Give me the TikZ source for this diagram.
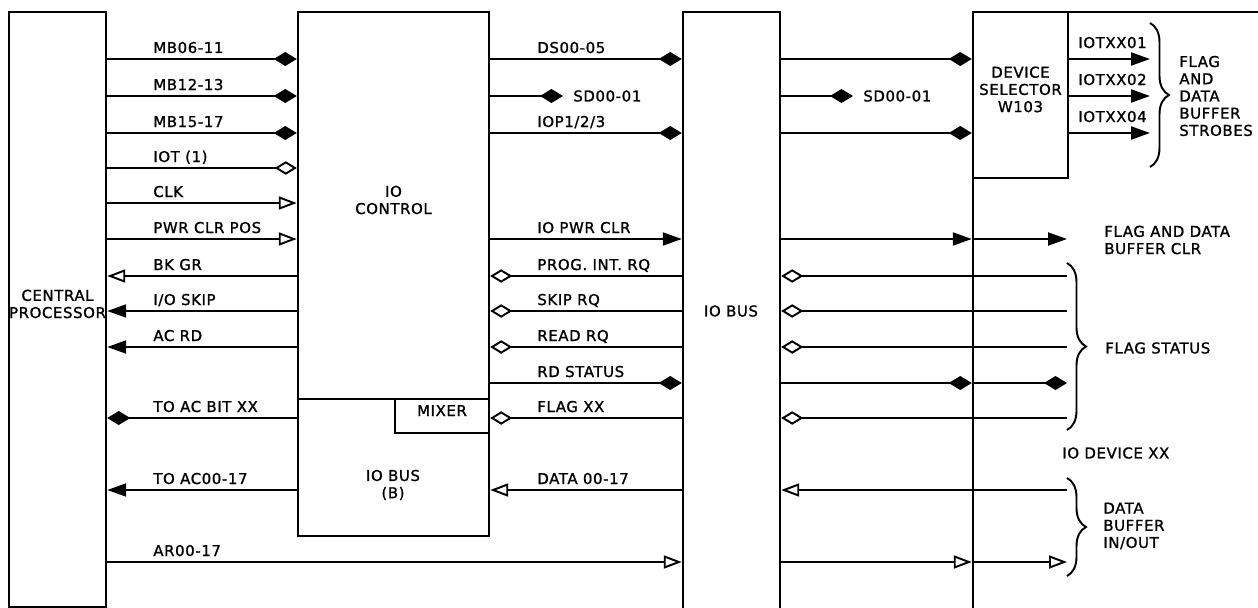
\documentclass[tikz,border=0pt]{standalone}
\usepackage{fontspec}
\setmainfont{DejaVu Sans}[LetterSpace=4, FakeBold=1.2]
\usetikzlibrary{arrows.meta, fit, decorations.pathreplacing}

\newcommand{\lblfont}{\fontsize{8.5}{9.8}\selectfont}

\begin{document}
\begin{tikzpicture}[
    x=0.02cm, y=-0.02cm,
    font=\lblfont,
    box/.style={draw, line width=1.4pt, inner sep=0pt, align=center},
    txt/.style={inner sep=0pt, align=center},
    lbl/.style={inner sep=0pt, anchor=base west, yshift=0.12cm},
    wire/.style={line width=1.1pt},
    fdia/.style={wire, -{Diamond[length=4.6mm, width=2.8mm]}},
    odia/.style={wire, -{Diamond[open, length=4.4mm, width=2.7mm]}},
    ftri/.style={wire, -{Triangle[length=3.8mm, width=2.6mm]}},
    otri/.style={wire, -{Triangle[open, length=3.6mm, width=2.6mm]}},
    curly/.style={decorate, decoration={brace, amplitude=0.38cm}, line width=1.1pt}
  ]
  \useasboundingbox (0,0) rectangle (1258,608);

  % signal rows and label columns
  \coordinate (r1) at (0,59);
  \coordinate (r2) at (0,96);
  \coordinate (r3) at (0,133);
  \coordinate (r4) at (0,168);
  \coordinate (r5) at (0,203);
  \coordinate (r6) at (0,239);
  \coordinate (r7) at (0,276);
  \coordinate (r8) at (0,311);
  \coordinate (r9) at (0,347);
  \coordinate (r10) at (0,383);
  \coordinate (r11) at (0,418);
  \coordinate (r12) at (0,490);
  \coordinate (r13) at (0,562);
  \coordinate (lx) at (153,0);
  \coordinate (rx) at (537,0);
  \coordinate (sx) at (1078,0);
  \coordinate (dend) at (1067,0);
  \coordinate (sout) at (1150,0);
  \coordinate (sdc) at (563,96);
  \coordinate (sdb) at (853,96);

  % blocks
  \node[box, fit={(9,12) (106,607)}] (cp) {CENTRAL\\PROCESSOR};
  \node[box, fit={(298,12) (489,399)}] (ctl) {IO\\CONTROL};
  \node[box, fit={(298,399) (489,536)}] (busb) {};
  \node[txt] (busbt) at (393,485) {IO BUS\\(B)};
  \node[box, fit={(395,399) (489,433)}] (mix) {MIXER};
  \node[box, fit={(683,12) (780,640)}] (bus) {};
  \node[txt] (bust) at (731,311) {IO BUS};
  \node[box, fit={(973,12) (1320,660)}] (dev) {};
  \node[txt, anchor=west] (devt) at (1062,453) {IO DEVICE XX};
  \node[box, fit={(973,12) (1068,178)}] (sel) {DEVICE\\SELECTOR\\W103};

  % central processor <-> io control
  \draw[fdia] (cp.east |- r1) -- (ctl.west |- r1);
  \draw[fdia] (cp.east |- r2) -- (ctl.west |- r2);
  \draw[fdia] (cp.east |- r3) -- (ctl.west |- r3);
  \draw[odia] (cp.east |- r4) -- (ctl.west |- r4);
  \draw[otri] (cp.east |- r5) -- (ctl.west |- r5);
  \draw[otri] (cp.east |- r6) -- (ctl.west |- r6);
  \draw[otri] (ctl.west |- r7) -- (cp.east |- r7);
  \draw[ftri] (ctl.west |- r8) -- (cp.east |- r8);
  \draw[ftri] (ctl.west |- r9) -- (cp.east |- r9);
  \draw[fdia] (busb.west |- r11) -- (cp.east |- r11);
  \draw[ftri] (busb.west |- r12) -- (cp.east |- r12);
  \draw[otri] (cp.east |- r13) -- (bus.west |- r13);

  \node[lbl] (lmb1) at (lx |- r1) {MB06-11};
  \node[lbl] (lmb2) at (lx |- r2) {MB12-13};
  \node[lbl] (lmb3) at (lx |- r3) {MB15-17};
  \node[lbl] (liot) at (lx |- r4) {IOT (1)};
  \node[lbl] (lclk) at (lx |- r5) {CLK};
  \node[lbl] (lpwr) at (lx |- r6) {PWR CLR POS};
  \node[lbl] (lbkg) at (lx |- r7) {BK GR};
  \node[lbl] (lskp) at (lx |- r8) {I/O SKIP};
  \node[lbl] (lacr) at (lx |- r9) {AC RD};
  \node[lbl] (lbit) at (lx |- r11) {TO AC BIT XX};
  \node[lbl] (lacx) at (lx |- r12) {TO AC00-17};
  \node[lbl] (larx) at (lx |- r13) {AR00-17};

  % io control <-> io bus
  \draw[fdia] (ctl.east |- r1) -- (bus.west |- r1);
  \draw[fdia] (ctl.east |- r2) -- (sdc);
  \draw[fdia] (ctl.east |- r3) -- (bus.west |- r3);
  \draw[ftri] (ctl.east |- r6) -- (bus.west |- r6);
  \draw[odia] (bus.west |- r7) -- (ctl.east |- r7);
  \draw[odia] (bus.west |- r8) -- (ctl.east |- r8);
  \draw[odia] (bus.west |- r9) -- (ctl.east |- r9);
  \draw[fdia] (ctl.east |- r10) -- (bus.west |- r10);
  \draw[odia] (bus.west |- r11) -- (mix.east |- r11);
  \draw[otri] (bus.west |- r12) -- (busb.east |- r12);

  \node[lbl] (rds) at (rx |- r1) {DS00-05};
  \node[txt, anchor=west] (rsd) at (573,96) {SD00-01};
  \node[lbl] (riop) at (rx |- r3) {IOP1/2/3};
  \node[lbl] (rpwr) at (rx |- r6) {IO PWR CLR};
  \node[lbl] (rpir) at (rx |- r7) {PROG. INT. RQ};
  \node[lbl] (rskp) at (rx |- r8) {SKIP RQ};
  \node[lbl] (rrdq) at (rx |- r9) {READ RQ};
  \node[lbl] (rrds) at (rx |- r10) {RD STATUS};
  \node[lbl] (rflg) at (rx |- r11) {FLAG XX};
  \node[lbl] (rdat) at (rx |- r12) {DATA 00-17};

  % io bus <-> io device
  \draw[fdia] (bus.east |- r1) -- (sel.west |- r1);
  \draw[fdia] (bus.east |- r2) -- (sdb);
  \draw[fdia] (bus.east |- r3) -- (sel.west |- r3);
  \draw[ftri] (bus.east |- r6) -- (dev.west |- r6);
  \draw[ftri] (dev.west |- r6) -- (dend |- r6);
  \draw[odia] (dend |- r7) -- (bus.east |- r7);
  \draw[odia] (dend |- r8) -- (bus.east |- r8);
  \draw[odia] (dend |- r9) -- (bus.east |- r9);
  \draw[fdia] (bus.east |- r10) -- (dev.west |- r10);
  \draw[fdia] (dev.west |- r10) -- (dend |- r10);
  \draw[odia] (dend |- r11) -- (bus.east |- r11);
  \draw[otri] (dend |- r12) -- (bus.east |- r12);
  \draw[otri] (bus.east |- r13) -- (dev.west |- r13);
  \draw[otri] (dev.west |- r13) -- (dend |- r13);

  \node[txt, anchor=west] (bsd) at (863,96) {SD00-01};

  % device selector strobes
  \draw[ftri] (sel.east |- r1) -- (sout |- r1);
  \draw[ftri] (sel.east |- r2) -- (sout |- r2);
  \draw[ftri] (sel.east |- r3) -- (sout |- r3);
  \node[lbl, yshift=0.1cm] (iot1) at (sx |- r1) {IOTXX01};
  \node[lbl, yshift=0.1cm] (iot2) at (sx |- r2) {IOTXX02};
  \node[lbl, yshift=0.1cm] (iot4) at (sx |- r3) {IOTXX04};

  % braces and group names
  \draw[curly] (1150,23) -- (1150,167);
  \draw[curly] (1067,263) -- (1067,430);
  \draw[curly] (1067,478) -- (1067,576);
  \node[txt, align=left, anchor=west] (strb) at (1179,96) {FLAG\\AND\\DATA\\BUFFER\\STROBES};
  \node[txt, align=left, anchor=west] (clr) at (1104,240) {FLAG AND DATA\\BUFFER CLR};
  \node[txt, anchor=west] (fst) at (1105,348) {FLAG STATUS};
  \node[txt, align=left, anchor=west] (dbuf) at (1103,526) {DATA\\BUFFER\\IN/OUT};
\end{tikzpicture}
\end{document}
